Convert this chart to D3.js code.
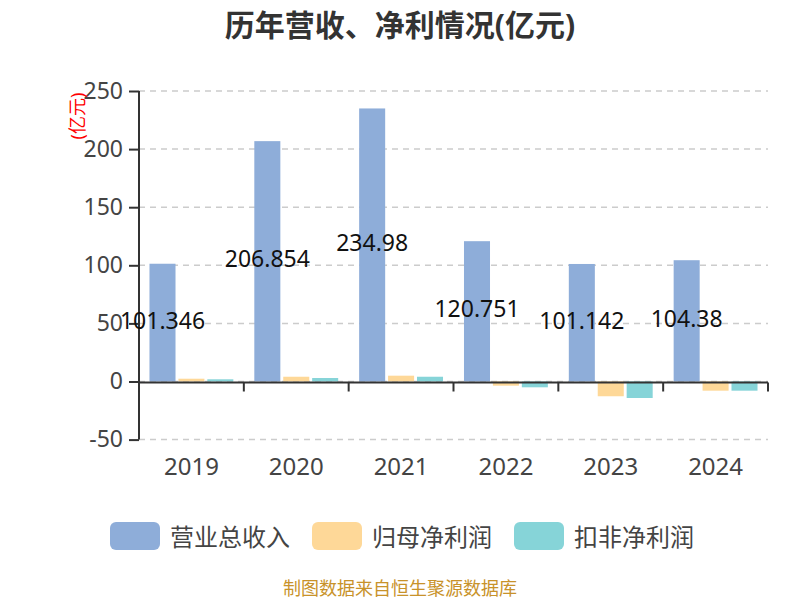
<!DOCTYPE html>
<html><head><meta charset="utf-8">
<script src="https://cdn.jsdelivr.net/npm/d3@7/dist/d3.min.js"></script>
<style>body{margin:0;background:#fff}svg{display:block}</style>
</head><body>
<svg id="c" width="800" height="600"></svg>
<script>
const years = ["2019","2020","2021","2022","2023","2024"];
const seriesNames = ["营业总收入","归母净利润","扣非净利润"];
const revenue = [101.346, 206.854, 234.98, 120.751, 101.142, 104.38];
const netProfit = [2.4, 4.1, 5.0, -3.6, -12.7, -7.9];
const deductedProfit = [1.9, 3.0, 4.1, -5.0, -14.2, -7.9];
const yTicks = [-50, 0, 50, 100, 150, 200, 250];
const colors = ["#8eadd9", "#fed898", "#86d4d8"];

const svg = d3.select("#c");
const font = "'Noto Sans','Noto Sans CJK SC',sans-serif";
const L = 139, R = 768, T = 91, B = 439.6;
const x = d3.scaleBand().domain(years).range([L, R]).paddingInner(0.2).paddingOuter(0.1);
const band = d3.scaleBand().domain([0,1,2]).range([0, x.bandwidth()]).paddingInner(0.1);
const y = d3.scaleLinear().domain([-50, 250]).range([B, T]);
const series = [revenue, netProfit, deductedProfit];

// grid
svg.append("g").selectAll("line").data(yTicks).join("line")
  .attr("x1", L).attr("x2", R).attr("y1", d => y(d)).attr("y2", d => y(d))
  .attr("stroke", "#ccc").attr("stroke-width", 1.5).attr("stroke-dasharray", "6,5");

// bars
series.forEach((vals, si) => {
  svg.append("g").selectAll("rect").data(vals).join("rect")
    .attr("x", (d, i) => x(years[i]) + band(si))
    .attr("width", band.bandwidth())
    .attr("y", d => Math.min(y(d), y(0)))
    .attr("height", d => Math.abs(y(d) - y(0)))
    .attr("fill", colors[si]);
});

// y axis
const yAxis = d3.axisLeft(y).tickValues(yTicks).tickSize(10).tickPadding(6).tickFormat(d => String(d));
const gy = svg.append("g").attr("transform", `translate(${L},0)`).call(yAxis);
gy.select(".domain").attr("stroke", "#333").attr("stroke-width", 2).attr("d", `M0,${B}V${T}`);
gy.selectAll(".tick line").attr("stroke", "#333").attr("stroke-width", 2);
gy.selectAll(".tick text").attr("font-family", font).attr("font-size", 23).attr("fill", "#444");

// x axis at zero
const xAxis = d3.axisBottom(x).tickSize(0).tickPadding(0);
const gx = svg.append("g").attr("transform", `translate(0,${y(0) + 1})`).call(xAxis);
gx.select(".domain").attr("stroke", "#333").attr("stroke-width", 2).attr("d", `M${L},0H${R}`);
gx.selectAll(".tick text").attr("font-family", font).attr("font-size", 24).attr("fill", "#444")
  .attr("y", 475 - y(0) - 1).attr("dy", 0);
const bounds = d3.range(years.length + 1).map(i => L + i * (R - L) / years.length);
gx.append("g").selectAll("line").data(bounds).join("line")
  .attr("x1", d => d).attr("x2", d => d).attr("y1", 0).attr("y2", 9)
  .attr("stroke", "#333").attr("stroke-width", 2);

// value labels
svg.append("g").selectAll("text").data(revenue).join("text")
  .attr("x", (d, i) => x(years[i]) + band(0) + band.bandwidth() / 2)
  .attr("y", d => (y(d) + y(0)) / 2 - 3)
  .attr("text-anchor", "middle").attr("dominant-baseline", "central")
  .attr("font-family", font).attr("font-size", 23).attr("fill", "#111")
  .text(d => d);

// unit label
svg.append("text").attr("transform", "translate(77,116) rotate(-90)")
  .attr("text-anchor", "middle").attr("dominant-baseline", "central")
  .attr("font-family", font).attr("font-size", 18).attr("fill", "#f00")
  .text("(亿元)");

// title
svg.append("text").attr("x", 400).attr("y", 24).attr("text-anchor", "middle")
  .attr("dominant-baseline", "central")
  .attr("font-family", font).attr("font-size", 30).attr("font-weight", "bold").attr("fill", "#333")
  .text("历年营收、净利情况(亿元)");

// legend
const legX = [110, 312, 514];
const lg = svg.append("g").selectAll("g").data(seriesNames).join("g")
  .attr("transform", (d, i) => `translate(${legX[i]},522)`);
lg.append("rect").attr("width", 50).attr("height", 28).attr("rx", 6)
  .attr("fill", (d, i) => colors[i]);
lg.append("text").attr("x", 60).attr("y", 14).attr("dominant-baseline", "central")
  .attr("font-family", font).attr("font-size", 24).attr("fill", "#444").text(d => d);

// footer
svg.append("text").attr("x", 400).attr("y", 588).attr("text-anchor", "middle")
  .attr("dominant-baseline", "central")
  .attr("font-family", font).attr("font-size", 18).attr("fill", "#c8922a")
  .text("制图数据来自恒生聚源数据库");
</script>
</body></html>
